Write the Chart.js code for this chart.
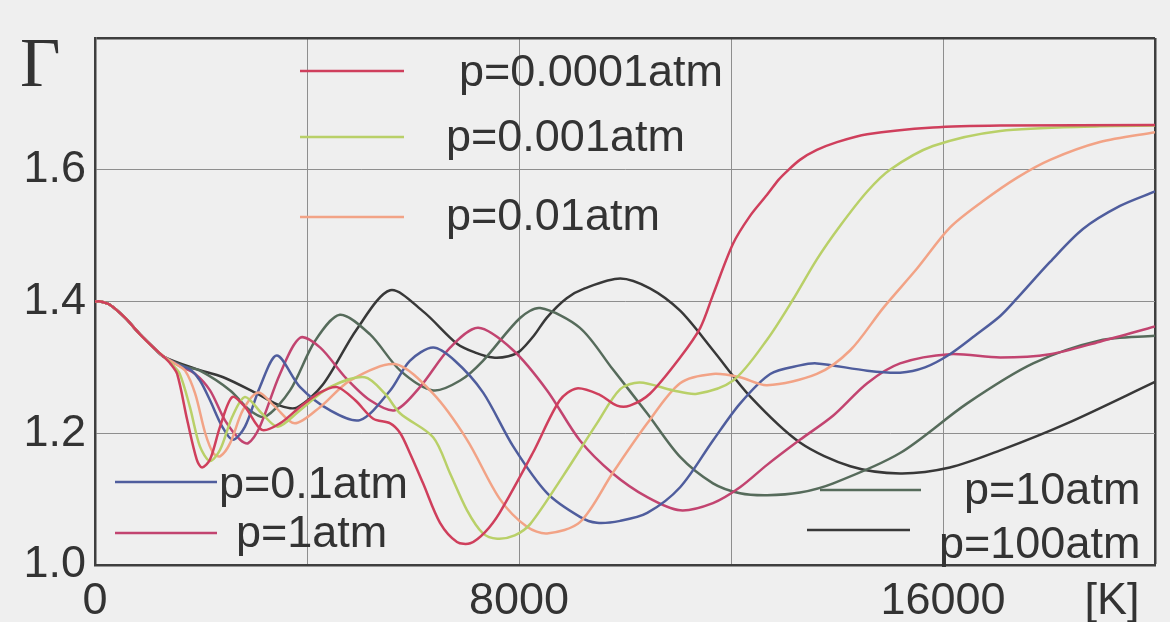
<!DOCTYPE html>
<html>
<head>
<meta charset="utf-8">
<script src="https://cdn.jsdelivr.net/npm/chart.js@4/dist/chart.umd.min.js"></script>
<style>
html,body{margin:0;padding:0;background:#efefef;}
canvas{display:block;}
</style>
</head>
<body>
<canvas id="c" width="1170" height="622"></canvas>
<script>
// ---- data (T in K, Gamma) ----
const seriesLabels = ['p=0.0001atm','p=0.001atm','p=0.01atm','p=0.1atm','p=1atm','p=10atm','p=100atm'];
const seriesColors = ['#cf3f5c','#b9d068','#f2a386','#4f5d9d','#c24470','#566b5b','#383838'];

// common low-temperature branch shared by all pressures
const T_common = [0,100,280,570,850,1130,1300];
const G_common = [1.40,1.40,1.395,1.375,1.35,1.328,1.316];

const T_p0001 = [1420,1550,1740,1920,2020,2170,2360,2590,2830,3150,3490,3870,4250,4570,4910,5250,5570,5760,5940,6190,6510,6830,7080,7360,7640,8260,8770,9090,9530,9850,10090,10470,11040,11420,11660,12040,12360,12680,12900,13060,13300,13620,14000,14570,15810,17080,20000];
const G_p0001 = [1.306,1.29,1.22,1.16,1.148,1.16,1.21,1.255,1.24,1.205,1.215,1.24,1.262,1.27,1.25,1.222,1.215,1.20,1.17,1.124,1.064,1.035,1.033,1.05,1.08,1.17,1.25,1.268,1.258,1.242,1.242,1.26,1.315,1.36,1.41,1.488,1.53,1.562,1.585,1.598,1.615,1.630,1.642,1.654,1.664,1.667,1.668];

const T_p001 = [1450,1600,1790,1980,2170,2360,2590,2830,3150,3450,3870,4430,5090,5470,5760,6380,6700,7020,7320,7590,7920,8210,8830,9470,9910,10280,10910,11360,12040,12680,13170,13620,14060,14570,15000,15810,17080,18960,20000];
const G_p001 = [1.305,1.29,1.24,1.18,1.158,1.175,1.225,1.255,1.23,1.21,1.235,1.27,1.285,1.26,1.23,1.194,1.139,1.083,1.048,1.04,1.045,1.062,1.135,1.215,1.267,1.277,1.265,1.26,1.28,1.342,1.403,1.464,1.515,1.567,1.60,1.636,1.659,1.666,1.667];

const T_p01 = [1510,1700,1890,2080,2230,2360,2550,2790,3080,3400,3770,4250,4810,5660,6380,7020,7640,8150,8530,9150,9770,10420,11040,11660,12170,12680,13620,14250,14870,15510,16130,16750,17400,18020,18960,20000];
const G_p01 = [1.306,1.295,1.26,1.20,1.17,1.165,1.185,1.235,1.262,1.24,1.215,1.24,1.28,1.305,1.26,1.19,1.10,1.058,1.048,1.065,1.14,1.215,1.276,1.29,1.285,1.273,1.29,1.326,1.39,1.45,1.512,1.552,1.588,1.615,1.642,1.657];

const T_p1 = [1570,1790,1980,2170,2400,2600,2830,3110,3430,3870,4430,5000,5570,5940,6380,6790,7320,7890,8530,9150,9470,9910,10420,11040,11660,12170,12740,13300,13620,14570,15190,15660,16130,16600,17080,17400,18020,18640,19340,20000];
const G_p1 = [1.304,1.297,1.28,1.25,1.21,1.19,1.21,1.27,1.318,1.27,1.235,1.22,1.265,1.31,1.33,1.31,1.262,1.18,1.109,1.073,1.064,1.067,1.079,1.118,1.189,1.245,1.29,1.303,1.306,1.295,1.292,1.30,1.32,1.348,1.378,1.405,1.46,1.51,1.545,1.567];

const T_1 = [1600,1890,2170,2450,2740,2890,3110,3490,3870,4250,4720,5190,5660,6130,6700,7230,7890,8530,9150,9770,10420,11040,11660,12170,12680,13300,13930,14570,15190,16130,17080,18020,18960,20000];
const G_1 = [1.302,1.29,1.265,1.22,1.19,1.185,1.21,1.29,1.345,1.33,1.285,1.25,1.235,1.27,1.33,1.36,1.326,1.265,1.189,1.139,1.103,1.083,1.094,1.118,1.152,1.19,1.227,1.276,1.306,1.32,1.315,1.32,1.339,1.362];

const T_10 = [1700,1980,2550,2920,3210,3680,4150,4620,5190,5760,6380,6890,7320,8020,8400,9150,9770,10420,11040,11660,12170,12680,13300,13930,15190,16450,17700,18960,20000];
const G_10 = [1.301,1.295,1.265,1.235,1.225,1.265,1.34,1.38,1.35,1.295,1.265,1.28,1.31,1.375,1.39,1.36,1.297,1.23,1.164,1.124,1.109,1.106,1.11,1.124,1.17,1.245,1.306,1.341,1.348];

const T_100 = [1890,2420,3060,3490,3810,4300,4940,5570,6190,6830,7190,7510,7800,8020,8280,8530,8900,9240,9910,10470,11040,11660,12360,13300,14250,15190,16130,17080,18340,20000];
const G_100 = [1.298,1.285,1.26,1.242,1.239,1.274,1.358,1.417,1.385,1.336,1.322,1.315,1.317,1.325,1.348,1.376,1.405,1.42,1.435,1.42,1.386,1.326,1.256,1.186,1.15,1.139,1.148,1.174,1.215,1.278];

const xTickLabels = {0:'0', 8000:'8000', 16000:'16000'};
const xUnitLabel = '[K]';
const xUnitPos = 19190;
const yTop = 1.8;
const yName = 'Γ';

const allT = [T_p0001,T_p001,T_p01,T_p1,T_1,T_10,T_100];
const allG = [G_p0001,G_p001,G_p01,G_p1,G_1,G_10,G_100];

const datasets = seriesLabels.map((lab,i)=>{
  const ts = T_common.concat(allT[i]);
  const gs = G_common.concat(allG[i]);
  return {
    label: lab,
    data: ts.map((t,j)=>({x:t,y:gs[j]})),
    borderColor: seriesColors[i],
    borderWidth: 2.5,
    pointRadius: 0,
    fill: false,
    tension: 0.3
  };
});

const FONT = "'Liberation Sans', Arial, sans-serif";
const TXT = '#333333';
const FRAME = '#3e3e3e';
const GRID = '#8e8e8e';

// legend placement (pixels): line x1,x2,y ; text x, baseline y
const legendPlace = [
  {x1:300,x2:404,y:71,tx:459,ty:86},
  {x1:300,x2:404,y:137,tx:446,ty:151},
  {x1:300,x2:404,y:217,tx:446,ty:230},
  {x1:115,x2:217,y:482,tx:219,ty:498},
  {x1:115,x2:217,y:533,tx:236,ty:547},
  {x1:820,x2:921,y:490,tx:964,ty:504},
  {x1:807,x2:910,y:530,tx:939,ty:558}
];

const notes = {
  id:'notes',
  beforeDraw(chart){
    const c = chart.ctx;
    c.save();
    c.fillStyle = '#efefef';
    c.fillRect(0,0,chart.width,chart.height);
    c.restore();
  },
  afterDraw(chart){
    const c = chart.ctx;
    c.save();
    legendPlace.forEach((p,i)=>{
      c.strokeStyle = seriesColors[i];
      c.lineWidth = 2.5;
      c.beginPath(); c.moveTo(p.x1,p.y); c.lineTo(p.x2,p.y); c.stroke();
      c.fillStyle = TXT;
      c.font = "45px " + FONT;
      c.textBaseline = 'alphabetic';
      c.textAlign = 'left';
      c.fillText(seriesLabels[i], p.tx, p.ty);
    });
    c.fillStyle = TXT;
    c.font = "70px 'Liberation Serif', 'DejaVu Serif', serif";
    c.textBaseline = 'alphabetic';
    c.fillText(yName, 20, 86);
    c.restore();
  }
};

new Chart(document.getElementById('c'), {
  type: 'line',
  data: { datasets },
  options: {
    responsive: false,
    animation: false,
    devicePixelRatio: 1,
    layout: { padding: { top: 38, right: 15, left: 0, bottom: 0 } },
    plugins: { legend: { display: false }, tooltip: { enabled: false } },
    scales: {
      x: {
        type: 'linear', min: 0, max: 20000,
        afterBuildTicks(scale){
          const t = [];
          for (let v=0; v<=20000; v+=4000) t.push({value:v});
          t.splice(t.length-1,0,{value:xUnitPos});
          scale.ticks = t;
        },
        afterFit(scale){ scale.height = 57; },
        ticks: {
          autoSkip: false, maxRotation: 0, padding: 10,
          color: TXT, font: { family: FONT, size: 45 },
          callback(v){ if (v===xUnitPos) return xUnitLabel; return xTickLabels[v] !== undefined ? xTickLabels[v] : ''; }
        },
        grid: {
          drawTicks: false,
          color(ctx){ const v = ctx.tick && ctx.tick.value; if (v===xUnitPos) return 'rgba(0,0,0,0)'; if (v===20000) return FRAME; return GRID; },
          lineWidth(ctx){ const v = ctx.tick && ctx.tick.value; return v===20000 ? 2.5 : 1; }
        },
        border: { display: true, color: FRAME, width: 2.5 }
      },
      y: {
        type: 'linear', min: 1.0, max: yTop,
        afterFit(scale){ scale.width = 95; },
        ticks: {
          stepSize: 0.2, padding: 9,
          color: TXT, font: { family: FONT, size: 45 },
          callback(v){ return Math.abs(v-yTop)<1e-6 ? '' : v.toFixed(1); }
        },
        grid: {
          drawTicks: false,
          color(ctx){ const v = ctx.tick && ctx.tick.value; return (v!==undefined && Math.abs(v-yTop)<1e-6) ? FRAME : GRID; },
          lineWidth(ctx){ const v = ctx.tick && ctx.tick.value; return (v!==undefined && Math.abs(v-yTop)<1e-6) ? 2.5 : 1; }
        },
        border: { display: true, color: FRAME, width: 2.5 }
      }
    }
  },
  plugins: [notes]
});
</script>
</body>
</html>
